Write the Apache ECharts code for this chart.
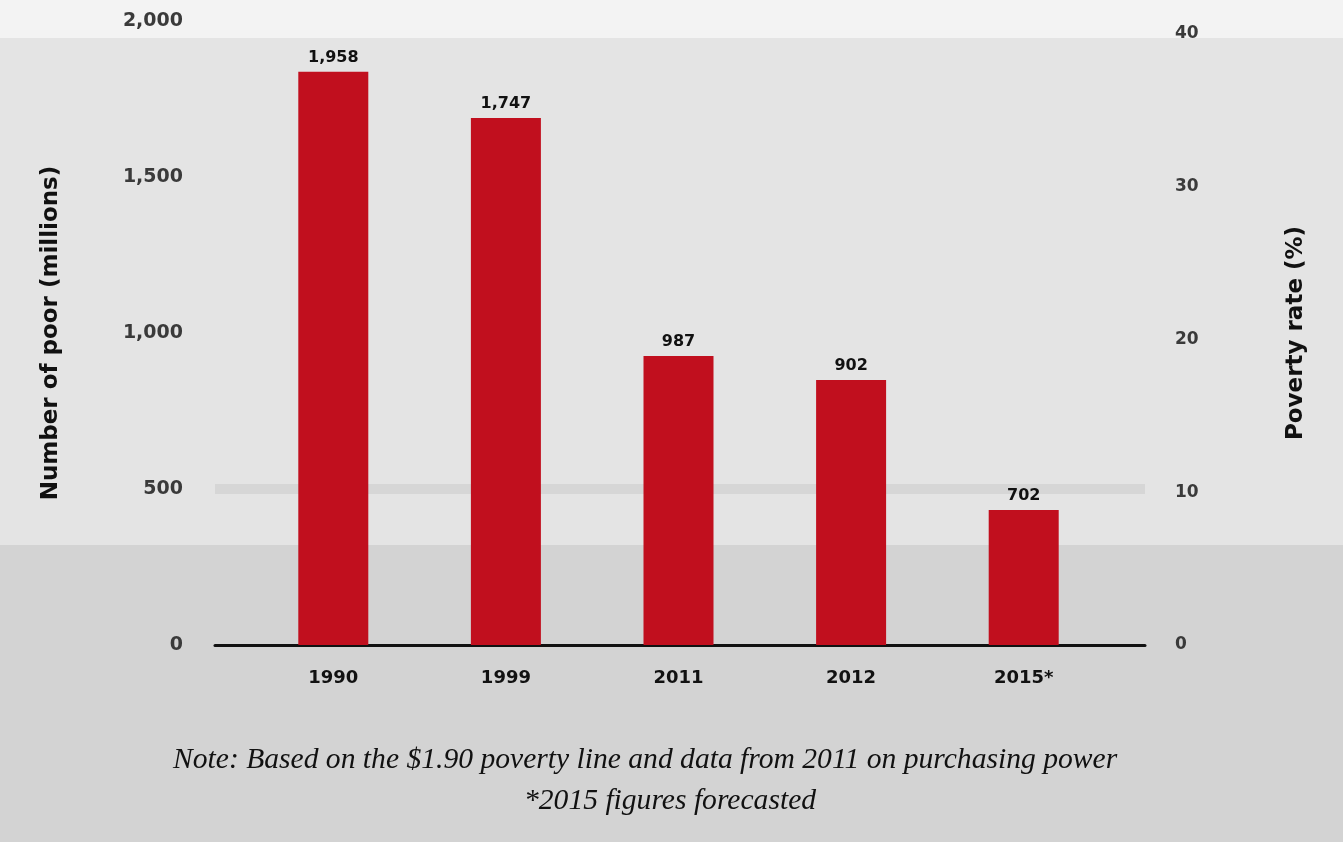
<!DOCTYPE html>
<html>
<head>
<meta charset="utf-8">
<script src="https://cdn.jsdelivr.net/npm/echarts@6/dist/echarts.min.js"></script>
<style>
html,body{margin:0;padding:0;}
#chart{width:1343px;height:842px;background:linear-gradient(to bottom,#f3f3f3 0px,#f3f3f3 38px,#e4e4e4 38px,#e4e4e4 545px,#d3d3d3 545px,#d3d3d3 842px);}
</style>
</head>
<body>
<div id="chart"></div>
<script>
// ---- data ----
const categories = ['1990', '1999', '2011', '2012', '2015*'];
const barValues = [1837, 1689, 926, 849, 433];          // bar heights as drawn (millions, left axis)
const barLabels = ['1,958', '1,747', '987', '902', '702']; // value labels printed on bars
const leftTicks = ['0', '500', '1,000', '1,500', '2,000'];
const rightTicks = ['0', '10', '20', '30', '40'];
const leftTitle = 'Number of poor (millions)';
const rightTitle = 'Poverty rate (%)';
const noteLine1 = 'Note: Based on the $1.90 poverty line and data from 2011 on purchasing power';
const noteLine2 = '*2015 figures forecasted';

const chart = echarts.init(document.getElementById('chart'), null, {renderer: 'canvas'});
const sans = '"DejaVu Sans", "Noto Sans", sans-serif';
const serif = '"Liberation Serif", "DejaVu Serif", serif';

chart.setOption({
  backgroundColor: 'transparent',
  animation: false,
  title: [
    {text: noteLine1, left: 168, top: 740,
     textStyle: {fontFamily: serif, fontStyle: 'italic', fontWeight: 'normal', fontSize: 29.6, color: '#111'}},
    {text: noteLine2, left: 519, top: 781,
     textStyle: {fontFamily: serif, fontStyle: 'italic', fontWeight: 'normal', fontSize: 29.6, color: '#111'}}
  ],
  grid: [
    {left: 215, right: 198, top: 21, bottom: 197},
    {left: 247, right: 233, top: 21, bottom: 197}
  ],
  xAxis: [
    {gridIndex: 0, type: 'category', data: categories,
     axisLine: {show: true, lineStyle: {color: '#111', width: 3}},
     axisTick: {show: false}, axisLabel: {show: false}, splitLine: {show: false}},
    {gridIndex: 1, type: 'category', data: categories,
     axisLine: {show: false}, axisTick: {show: false},
     axisLabel: {margin: 24, fontFamily: sans, fontWeight: 'bold', fontSize: 18, color: '#111'}}
  ],
  yAxis: [
    {gridIndex: 0, type: 'value', position: 'left', min: 0, max: 2000, interval: 500,
     axisLine: {show: false}, axisTick: {show: false}, splitLine: {show: false},
     axisLabel: {margin: 32, fontFamily: sans, fontWeight: 'bold', fontSize: 19, color: '#3a3a3a',
       formatter: (v) => leftTicks[Math.round(v / 500)]},
     name: leftTitle, nameLocation: 'middle', nameGap: 152, nameRotate: 90,
     nameTextStyle: {fontFamily: sans, fontWeight: 'bold', fontSize: 23, color: '#111'}},
    {gridIndex: 0, type: 'value', position: 'right', min: 0, max: 40.85, interval: 10,
     axisLine: {show: false}, axisTick: {show: false}, splitLine: {show: false},
     axisLabel: {margin: 30, fontFamily: sans, fontWeight: 'bold', fontSize: 17, color: '#3a3a3a',
       showMaxLabel: false,
       formatter: (v) => { const i = Math.round(v / 10); return (Math.abs(v - i * 10) < 0.01) ? rightTicks[i] : ''; }},
     name: rightTitle, nameLocation: 'middle', nameGap: 140, nameRotate: 90,
     nameTextStyle: {fontFamily: sans, fontWeight: 'bold', fontSize: 23, color: '#111'}},
    {gridIndex: 1, type: 'value', min: 0, max: 2000, show: false}
  ],
  series: [
    {type: 'line', xAxisIndex: 0, yAxisIndex: 0, data: [], z: 1, silent: true,
     markLine: {silent: true, symbol: 'none', label: {show: false}, z: 1,
       lineStyle: {type: 'solid', color: '#d6d6d6', width: 10},
       data: [{yAxis: 500}]}},
    {type: 'bar', xAxisIndex: 1, yAxisIndex: 2, data: barValues, z: 6,
     barWidth: 70,
     itemStyle: {color: '#c10f1e'},
     label: {show: true, position: 'top', distance: 6,
       fontFamily: sans, fontWeight: 'bold', fontSize: 16, color: '#111',
       formatter: (p) => barLabels[p.dataIndex]}}
  ]
});
</script>
</body>
</html>
